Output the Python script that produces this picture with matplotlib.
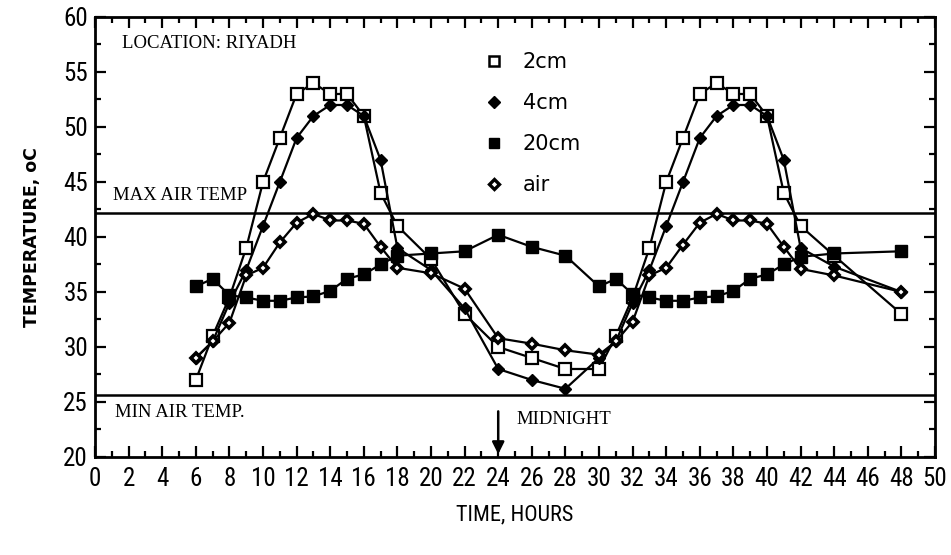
import matplotlib
matplotlib.use("Agg")
import matplotlib.pyplot as plt
from matplotlib.lines import Line2D
from matplotlib.ticker import MultipleLocator
from matplotlib import font_manager

hours = [6, 7, 8, 9, 10, 11, 12, 13, 14, 15, 16, 17, 18, 20, 22, 24, 26, 28,
         30, 31, 32, 33, 34, 35, 36, 37, 38, 39, 40, 41, 42, 44, 48]

t_2cm = [27, 31, 34.5, 39, 45, 49, 53, 54, 53, 53, 51, 44, 41, 38, 33, 30, 29, 28,
         28, 31, 34.5, 39, 45, 49, 53, 54, 53, 53, 51, 44, 41, 38.3, 33]
t_4cm = [29, 30.5, 34, 37, 41, 45, 49, 51, 52, 52, 51, 47, 39, 37, 33.5, 28, 27, 26.2,
         29, 30.5, 34, 37, 41, 45, 49, 51, 52, 52, 51, 47, 39, 37.3, 35]
t_20cm = [35.5, 36.2, 34.7, 34.5, 34.2, 34.2, 34.5, 34.6, 35.1, 36.2, 36.6, 37.5, 38.3, 38.5, 38.7, 40.2, 39.1, 38.3,
          35.5, 36.2, 34.8, 34.5, 34.2, 34.2, 34.5, 34.6, 35.1, 36.2, 36.6, 37.5, 38.2, 38.5, 38.7]
t_air = [29, 30.5, 32.2, 36.5, 37.2, 39.5, 41.3, 42.1, 41.5, 41.5, 41.2, 39.1, 37.2, 36.7, 35.3, 30.8, 30.3, 29.7,
         29.3, 30.5, 32.3, 36.5, 37.2, 39.3, 41.3, 42.1, 41.5, 41.5, 41.2, 39.1, 37.1, 36.5, 35]

max_air = 42.2
min_air = 25.6
series_labels = ["2cm", "4cm", "20cm", "air"]

installed = {f.name for f in font_manager.fontManager.ttflist}
narrow = [f for f in ["Liberation Sans Narrow", "DejaVu Sans Condensed", "Roboto Condensed",
                      "Open Sans Condensed", "Liberation Sans", "DejaVu Sans"] if f in installed]
if not narrow:
    narrow = ["DejaVu Sans"]
serif = [f for f in ["Liberation Serif", "DejaVu Serif"] if f in installed] or ["DejaVu Serif"]

fig = plt.figure(figsize=(9.51, 5.55), dpi=100)
ax = fig.add_axes([0.0999, 0.1766, 0.8833, 0.7928])

lw = 1.6
ax.plot(hours, t_2cm, color="black", lw=lw, marker="s", ms=8, mfc="white", mec="black", mew=1.6, zorder=3)
ax.plot(hours, t_4cm, color="black", lw=lw, marker="D", ms=6.5, mfc="black", mec="black", zorder=3)
ax.plot(hours, t_20cm, color="black", lw=lw, marker="s", ms=8, mfc="black", mec="black", zorder=3)
ax.plot(hours, t_air, color="black", lw=lw, marker="D", ms=5, mfc="white", mec="black", mew=2.6, zorder=3)

ax.axhline(max_air, color="black", lw=1.8)
ax.axhline(min_air, color="black", lw=1.8)

ax.set_xlim(0, 50)
ax.set_ylim(20, 60)
ax.xaxis.set_major_locator(MultipleLocator(2))
ax.xaxis.set_minor_locator(MultipleLocator(1))
ax.yaxis.set_major_locator(MultipleLocator(5))
ax.yaxis.set_minor_locator(MultipleLocator(2.5))
ax.tick_params(which="both", direction="in", top=True, right=True, width=1.6, color="black")
ax.tick_params(which="major", length=8)
ax.tick_params(which="minor", length=4)
ax.tick_params(axis="x", which="major", pad=7)
ax.tick_params(axis="y", which="major", pad=5)
for s in ax.spines.values():
    s.set_linewidth(2)

for lab in ax.get_xticklabels() + ax.get_yticklabels():
    lab.set_family(narrow)
    lab.set_fontsize(18)

ax.set_xlabel("TIME, HOURS", family=narrow, fontsize=16, labelpad=10)
ax.set_ylabel("TEMPERATURE, oC", family=["DejaVu Sans"], fontsize=12.5, fontweight="bold", labelpad=16)

ax.text(1.6, 57.6, "LOCATION: RIYADH", family=serif, fontsize=13.5, va="center", ha="left")
ax.text(1.1, 43.8, "MAX AIR TEMP", family=serif, fontsize=13.5, va="center", ha="left")
ax.text(1.2, 24.0, "MIN AIR TEMP.", family=serif, fontsize=13.5, va="center", ha="left")
ax.text(25.1, 23.4, "MIDNIGHT", family=serif, fontsize=13.5, va="center", ha="left")
ax.annotate("", xy=(24, 20), xytext=(24, 24.4),
            arrowprops=dict(arrowstyle="-|>", color="black", lw=1.8, mutation_scale=18))

handles = [
    Line2D([], [], ls="none", marker="s", ms=7, mfc="white", mec="black", mew=1.8),
    Line2D([], [], ls="none", marker="D", ms=6.5, mfc="black", mec="black"),
    Line2D([], [], ls="none", marker="s", ms=7.5, mfc="black", mec="black"),
    Line2D([], [], ls="none", marker="D", ms=5, mfc="white", mec="black", mew=2.4),
]
ax.legend(handles, series_labels, loc="upper left", bbox_to_anchor=(0.44, 0.962), frameon=False,
          prop={"family": ["DejaVu Sans"], "size": 15}, labelspacing=1.0, handletextpad=0.9,
          handlelength=1.0)

fig.savefig("out.png", dpi=100)
